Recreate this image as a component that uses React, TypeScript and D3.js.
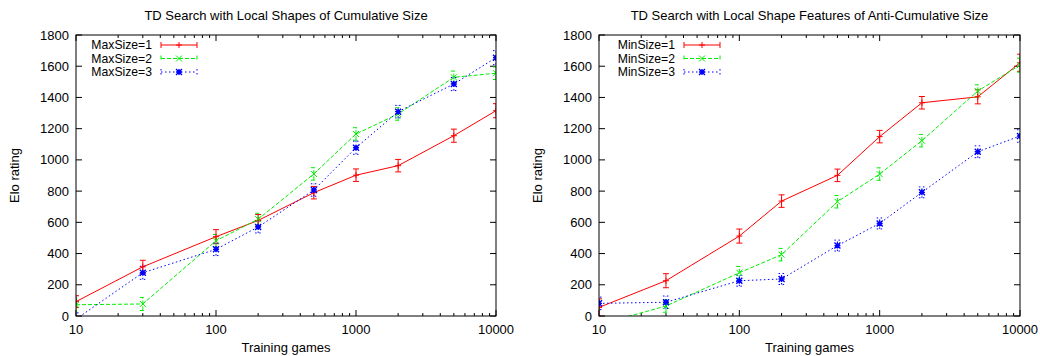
import React from "react";
import * as d3 from "d3";

// Training games on the x axis (log scale)
const games = [10, 30, 100, 200, 500, 1000, 2000, 5000, 10000];

// Left panel: cumulative local shapes
const maxSize1 = [92, 315, 508, 612, 790, 902, 963, 1155, 1315];
const maxSize1Err = [38, 42, 45, 38, 40, 40, 40, 42, 45];
const maxSize2 = [72, 77, 482, 620, 910, 1166, 1294, 1529, 1555];
const maxSize2Err = [42, 42, 40, 38, 40, 40, 40, 40, 40];
const maxSize3 = [-20, 277, 427, 570, 807, 1078, 1309, 1486, 1655];
const maxSize3Err = [40, 42, 40, 38, 40, 42, 40, 42, 45];

// Right panel: anti-cumulative local shape features
const minSize1 = [55, 226, 512, 736, 901, 1149, 1366, 1404, 1622];
const minSize1Err = [55, 45, 45, 40, 40, 40, 40, 45, 55];
const minSize2 = [-55, 64, 277, 393, 732, 909, 1123, 1441, 1607];
const minSize2Err = [45, 40, 40, 40, 40, 40, 40, 40, 45];
const minSize3 = [81, 88, 226, 237, 451, 593, 792, 1052, 1153];
const minSize3Err = [40, 40, 35, 35, 35, 35, 35, 38, 40];

const yTicks = [0, 200, 400, 600, 800, 1000, 1200, 1400, 1600, 1800];
const xTicks = [10, 100, 1000, 10000];

const leftTitle = "TD Search with Local Shapes of Cumulative Size";
const rightTitle = "TD Search with Local Shape Features of Anti-Cumulative Size";
const leftNames = ["MaxSize=1", "MaxSize=2", "MaxSize=3"];
const rightNames = ["MinSize=1", "MinSize=2", "MinSize=3"];

const COLORS = ["#ff0000", "#00ee00", "#0000ff"];
const DASHES = ["none", "4,2", "1.5,2.5"];
const FONT = "'Liberation Sans', Arial, Helvetica, sans-serif";

type Series = { name: string; values: number[]; errs: number[] };

function Marker({ kind, x, y, color }: { kind: number; x: number; y: number; color: string }) {
  const s = 3;
  const plus = `M${x - s},${y}H${x + s}M${x},${y - s}V${y + s}`;
  const cross = `M${x - s},${y - s}L${x + s},${y + s}M${x - s},${y + s}L${x + s},${y - s}`;
  const d = kind === 0 ? plus : kind === 1 ? cross : plus + cross;
  return <path d={d} stroke={color} strokeWidth={kind === 2 ? 1.4 : 1} fill="none" />;
}

function Panel({
  left,
  right,
  title,
  series,
  id,
}: {
  left: number;
  right: number;
  title: string;
  series: Series[];
  id: string;
}) {
  const top = 35;
  const bottom = 316;
  const x = d3.scaleLog().domain([10, 10000]).range([left, right]);
  const y = d3.scaleLinear().domain([0, 1800]).range([bottom, top]);

  const minor: number[] = [];
  for (let dec = 10; dec < 10000; dec *= 10) {
    for (let k = 2; k <= 9; k++) minor.push(dec * k);
  }

  const line = d3
    .line<number>()
    .x((_, i) => x(games[i]))
    .y((v) => y(v));

  const cx = (left + right) / 2;
  const legX = left + 76;

  return (
    <g fontFamily={FONT} fontSize={13}>
      <defs>
        <clipPath id={id}>
          <rect x={left} y={top} width={right - left} height={bottom - top} />
        </clipPath>
      </defs>
      <text x={cx} y={20} textAnchor="middle">
        {title}
      </text>
      {/* y ticks, mirrored on right */}
      {yTicks.map((t) => (
        <g key={"y" + t}>
          <line x1={left} x2={left + 6} y1={y(t)} y2={y(t)} stroke="#000" />
          <line x1={right} x2={right - 6} y1={y(t)} y2={y(t)} stroke="#000" />
          <text x={left - 7} y={y(t) + 4.5} textAnchor="end">
            {t}
          </text>
        </g>
      ))}
      {/* x major ticks */}
      {xTicks.map((t) => (
        <g key={"x" + t}>
          <line x1={x(t)} x2={x(t)} y1={bottom} y2={bottom - 6} stroke="#000" />
          <line x1={x(t)} x2={x(t)} y1={top} y2={top + 6} stroke="#000" />
          <text x={x(t)} y={bottom + 18} textAnchor="middle">
            {t}
          </text>
        </g>
      ))}
      {minor.map((t) => (
        <g key={"m" + t}>
          <line x1={x(t)} x2={x(t)} y1={bottom} y2={bottom - 3} stroke="#000" />
          <line x1={x(t)} x2={x(t)} y1={top} y2={top + 3} stroke="#000" />
        </g>
      ))}
      <text x={cx} y={352} textAnchor="middle">
        Training games
      </text>
      <text
        transform={`translate(${left - 57},${(top + bottom) / 2}) rotate(-90)`}
        textAnchor="middle"
      >
        Elo rating
      </text>

      <g clipPath={`url(#${id})`}>
        {series.map((s, si) => (
          <g key={s.name} stroke={COLORS[si]} strokeDasharray={DASHES[si]} fill="none">
            <path d={line(s.values) || ""} strokeWidth={1} />
            {s.values.map((v, i) => {
              const px = x(games[i]);
              const y1 = y(v - s.errs[i]);
              const y2 = y(v + s.errs[i]);
              return (
                <path
                  key={i}
                  d={`M${px},${y1}V${y2}M${px - 3},${y1}H${px + 3}M${px - 3},${y2}H${px + 3}`}
                  strokeWidth={1}
                />
              );
            })}
          </g>
        ))}
        {series.map((s, si) =>
          s.values.map((v, i) => (
            <Marker key={s.name + i} kind={si} x={x(games[i])} y={y(v)} color={COLORS[si]} />
          ))
        )}
      </g>

      {/* legend */}
      {series.map((s, si) => {
        const ly = 45 + si * 13.5;
        const x1 = legX + 9;
        const x2 = legX + 45;
        const mx = (x1 + x2) / 2;
        return (
          <g key={"leg" + si}>
            <text x={legX} y={ly + 4.3} textAnchor="end" fontSize={12.2}>
              {s.name}
            </text>
            <path
              d={`M${x1},${ly}H${x2}M${x1},${ly - 3}V${ly + 3}M${x2},${ly - 3}V${ly + 3}`}
              stroke={COLORS[si]}
              strokeDasharray={DASHES[si]}
              fill="none"
            />
            <Marker kind={si} x={mx} y={ly} color={COLORS[si]} />
          </g>
        );
      })}

      <rect
        x={left}
        y={top}
        width={right - left}
        height={bottom - top}
        fill="none"
        stroke="#000"
        strokeWidth={1}
      />
    </g>
  );
}

export default function App() {
  const leftSeries: Series[] = [
    { name: leftNames[0], values: maxSize1, errs: maxSize1Err },
    { name: leftNames[1], values: maxSize2, errs: maxSize2Err },
    { name: leftNames[2], values: maxSize3, errs: maxSize3Err },
  ];
  const rightSeries: Series[] = [
    { name: rightNames[0], values: minSize1, errs: minSize1Err },
    { name: rightNames[1], values: minSize2, errs: minSize2Err },
    { name: rightNames[2], values: minSize3, errs: minSize3Err },
  ];
  return (
    <svg
      width={1040}
      height={356}
      style={{ position: "absolute", left: 0, top: 0, background: "#fff" }}
    >
      <rect width={1040} height={356} fill="#fff" />
      <Panel left={76} right={496} title={leftTitle} series={leftSeries} id="clipL" />
      <Panel left={599} right={1020} title={rightTitle} series={rightSeries} id="clipR" />
    </svg>
  );
}
